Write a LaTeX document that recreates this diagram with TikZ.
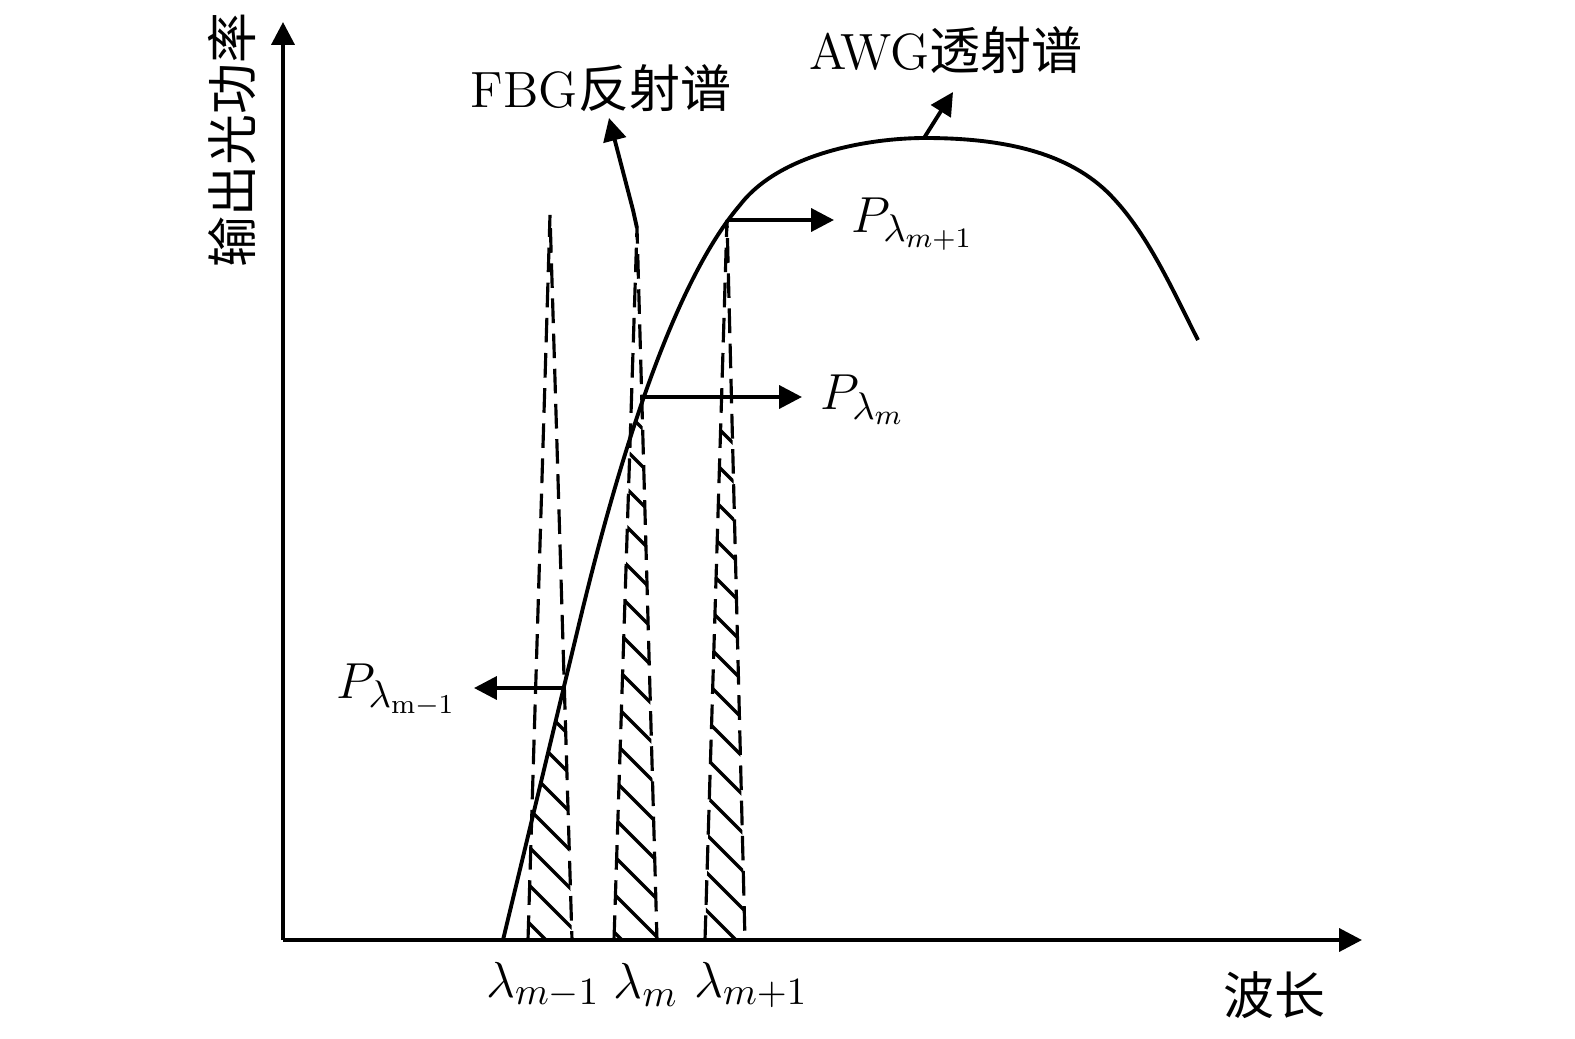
\documentclass[tikz,border=0pt]{standalone}
\usepackage{fontspec}
\newfontfamily\cjk{Noto Sans CJK SC}
\usetikzlibrary{arrows.meta}

\begin{document}
\begin{tikzpicture}[x=0.01cm,y=-0.01cm,line width=1.1pt,
  arr/.style={-{Triangle[length=6.5pt,width=6.5pt]}},
  fbg/.style={line width=0.9pt,dash pattern=on 7pt off 3pt},
  hatch/.style={line width=0.95pt},
  lbl/.style={font=\fontsize{14.5}{16}\selectfont,inner sep=1pt},
  mlbl/.style={font=\fontsize{15.5}{17}\selectfont,inner sep=1pt}]
\useasboundingbox (0,0) rectangle (1575,1039);

% axes
\coordinate (o) at (283,940);
\coordinate (xend) at (1362,940);
\coordinate (yend) at (283,22);
\draw[arr] (o) -- (xend);
\draw[arr] (o) -- (yend);
\node[lbl,rotate=90] (ylbl) at (232,140) {\cjk 输出光功率};
\node[lbl] (xlbl) at (1274,995) {\cjk 波长};

% FBG peaks
\coordinate (f1) at (550,215);
\coordinate (f2) at (637,228);
\coordinate (f3) at (727,220);
\foreach \p/\l/\r in {f1/528/572,f2/614/657,f3/705/745}{
  \begin{scope}
    \clip (\l,940) -- (\p) -- (\r,940) -- cycle;
    \clip (503,940) -- (580,620) .. controls (634,396) and (688,266) .. (740,205)
      .. controls (780,153) and (870,138) .. (925,138) -- (925,940) -- cycle;
    \foreach \k in {0,...,30}
      \draw[hatch] (450,160+\k*38) -- +(400,400);
  \end{scope}
  \draw[fbg] (\l,940) -- (\p) -- (\r,940);
}

% AWG curve
\draw (503,940) -- (580,620) .. controls (634,396) and (688,266) .. (740,205)
  .. controls (780,153) and (870,138) .. (925,138)
  .. controls (1010,138) and (1075,155) .. (1115,200)
  .. controls (1150,238) and (1175,295) .. (1198,340);

% labels
\node[lbl] (fbglbl) at (601,88) {FBG{\cjk 反射谱}};
\node[lbl] (awglbl) at (946,50) {AWG{\cjk 透射谱}};
\coordinate (fbgtip) at (609,118);
\coordinate (awgtop) at (924,138);
\coordinate (awgtip) at (953,92);
\draw[arr] (f2) -- (633,210) -- (fbgtip);
\draw[arr] (awgtop) -- (awgtip);

% power levels
\coordinate (pm1) at (563,688);
\coordinate (pm) at (643,397);
\coordinate (pp1) at (728,220);
\coordinate (tipm1) at (474,688);
\coordinate (tipm) at (802,397);
\coordinate (tipp1) at (834,220);
\draw[arr] (pm1) -- (tipm1);
\draw[arr] (pm) -- (tipm);
\draw[arr] (pp1) -- (tipp1);
\node[mlbl,anchor=east] (lpm1) at (462,690) {$P_{\lambda_{\mathrm{m-1}}}$};
\node[mlbl,anchor=west] (lpm) at (815,400) {$P_{\lambda_m}$};
\node[mlbl,anchor=west] (lpp1) at (846,224) {$P_{\lambda_{m+1}}$};

% wavelengths
\node[mlbl] (lm1) at (543,985) {$\lambda_{m-1}$};
\node[mlbl] (lm) at (646,985) {$\lambda_m$};
\node[mlbl] (lp1) at (751,985) {$\lambda_{m+1}$};
\end{tikzpicture}
\end{document}
